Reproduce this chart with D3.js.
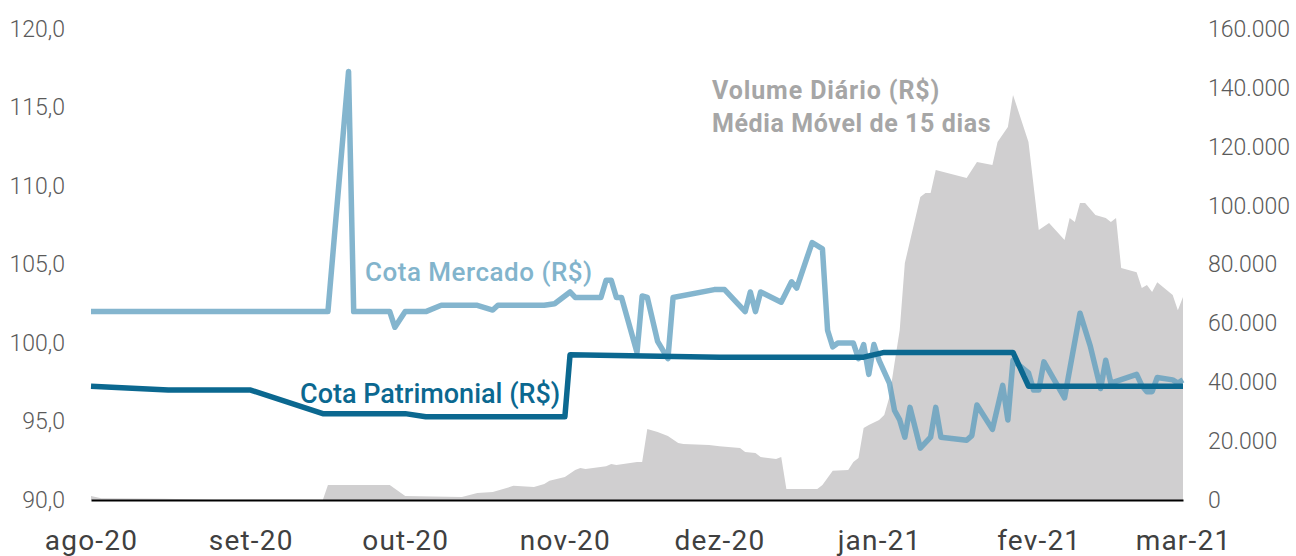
<!DOCTYPE html>
<html>
<head>
<meta charset="utf-8">
<script src="https://cdn.jsdelivr.net/npm/d3@7"></script>
<style>
  body { margin: 0; background: #fff; }
  text { font-family: Roboto, "Noto Sans", sans-serif; }
</style>
</head>
<body>
<script>
function setattrs(shape, dict) {
    for (let [prop, val] of Object.entries(dict)) {
        shape.attr(prop, val)
    }
}

// Cota Mercado (R$)
const mercadoDates = ["2020-08-01","2020-09-16","2020-09-20","2020-09-21","2020-09-28","2020-09-29","2020-10-01","2020-10-05",
    "2020-10-08","2020-10-15","2020-10-18","2020-10-19","2020-10-28","2020-10-30","2020-11-02","2020-11-03","2020-11-08",
    "2020-11-09","2020-11-10","2020-11-11","2020-11-12","2020-11-15","2020-11-16","2020-11-17","2020-11-19","2020-11-21",
    "2020-11-22","2020-11-30","2020-12-02","2020-12-06","2020-12-07","2020-12-08","2020-12-09","2020-12-13","2020-12-15",
    "2020-12-16","2020-12-19","2020-12-21","2020-12-22","2020-12-23","2020-12-24","2020-12-27","2020-12-28","2020-12-29",
    "2020-12-30","2020-12-31","2021-01-01","2021-01-03","2021-01-04","2021-01-05","2021-01-06","2021-01-07","2021-01-09",
    "2021-01-11","2021-01-12","2021-01-13","2021-01-18","2021-01-19","2021-01-20","2021-01-23","2021-01-25","2021-01-26",
    "2021-01-27","2021-01-30","2021-01-31","2021-02-01","2021-02-02","2021-02-06","2021-02-09","2021-02-11","2021-02-13",
    "2021-02-14","2021-02-15","2021-02-20","2021-02-21","2021-02-22","2021-02-23","2021-02-24","2021-02-27","2021-02-28",
    "2021-03-01"]
const mercadoValues = [102.0,102.0,117.3,102.0,102.0,101.0,102.0,102.0,
    102.4,102.4,102.1,102.4,102.4,102.5,103.25,102.9,102.9,
    104.0,104.0,102.9,102.9,99.4,103.0,102.9,100.1,99.0,
    102.9,103.4,103.4,102.0,103.25,102.0,103.25,102.6,103.9,
    103.5,106.4,106.0,100.8,99.75,100.0,100.0,99.0,99.9,
    98.0,99.9,98.9,97.45,95.7,95.1,94.0,95.9,93.3,
    94.0,95.9,94.0,93.8,94.1,96.05,94.5,97.3,95.1,
    98.9,98.1,97.0,97.0,98.8,96.5,101.9,99.8,97.1,
    98.9,97.45,98.0,97.3,96.9,96.9,97.8,97.65,97.45,
    97.65]

// Cota Patrimonial (R$)
const patrimonialDates = ["2020-08-01","2020-08-16","2020-09-01","2020-09-15","2020-10-01","2020-10-05","2020-11-01",
    "2020-11-02","2020-12-01","2020-12-29","2021-01-02","2021-01-27","2021-01-30","2021-03-01"]
const patrimonialValues = [97.25,97.0,97.0,95.5,95.5,95.3,95.3,99.25,99.1,99.1,99.4,99.4,97.25,97.25]

// Volume Diario (R$) - media movel de 15 dias
const volumeDates = ["2020-08-01","2020-08-03","2020-08-15","2020-08-25","2020-09-15","2020-09-16","2020-09-28","2020-10-01",
    "2020-10-12","2020-10-15","2020-10-18","2020-10-22","2020-10-26","2020-10-28","2020-10-29","2020-11-01","2020-11-03",
    "2020-11-04","2020-11-05","2020-11-09","2020-11-10","2020-11-11","2020-11-15","2020-11-16","2020-11-17","2020-11-19",
    "2020-11-21","2020-11-23","2020-11-24","2020-11-29","2020-12-01","2020-12-05","2020-12-06","2020-12-08","2020-12-09",
    "2020-12-12","2020-12-13","2020-12-14","2020-12-20","2020-12-21","2020-12-23","2020-12-26","2020-12-27","2020-12-28",
    "2020-12-29","2020-12-30","2021-01-01","2021-01-02","2021-01-03","2021-01-04","2021-01-05","2021-01-06","2021-01-09",
    "2021-01-10","2021-01-11","2021-01-12","2021-01-18","2021-01-20","2021-01-23","2021-01-24","2021-01-26","2021-01-27",
    "2021-01-30","2021-02-01","2021-02-03","2021-02-06","2021-02-07","2021-02-08","2021-02-09","2021-02-10","2021-02-12",
    "2021-02-14","2021-02-15","2021-02-16","2021-02-17","2021-02-20","2021-02-21","2021-02-22","2021-02-23","2021-02-24",
    "2021-02-27","2021-02-28","2021-03-01"]
const volumeValues = [1400,600,400,100,0,5100,5100,1400,
    1000,2400,2700,4800,4400,5400,6500,7800,10200,
    10900,10500,11500,12200,11900,12900,12900,24100,23100,
    21700,19400,19000,18700,18300,17700,16300,16000,14600,
    13900,14600,3700,3700,5100,9900,10200,12900,14300,
    24500,25500,27200,28900,35000,46500,57700,80500,102900,
    104300,104300,112100,109400,114800,113800,121600,126700,137600,
    121600,91700,94100,88300,95800,94400,100900,100900,96800,
    95800,94400,95800,78800,77400,72000,73000,70700,74000,
    69600,64500,69000]

const monthDates = ["2020-08-01","2020-09-01","2020-10-01","2020-11-01","2020-12-01","2021-01-01","2021-02-01","2021-03-01"]
const monthLabels = ["ago-20","set-20","out-20","nov-20","dez-20","jan-21","fev-21","mar-21"]
const leftTicks = [90,95,100,105,110,115,120]
const rightTicks = [0,20000,40000,60000,80000,100000,120000,140000,160000]

const W = 1296, H = 556
const parse = d3.timeParse("%Y-%m-%d")
const ptBR = d3.formatLocale({decimal: ",", thousands: ".", grouping: [3], currency: ["R$", ""]})

const svg = d3.select("body").append("svg")
setattrs(svg, {"width": W, "height": H})

const x = d3.scaleTime().domain([parse(monthDates[0]), parse(monthDates[monthDates.length-1])]).range([91, 1183])
const yL = d3.scaleLinear().domain([90, 120]).range([500, 29])
const yR = d3.scaleLinear().domain([0, 160000]).range([500, 29])

const volume = volumeDates.map((d, i) => ({date: parse(d), v: volumeValues[i]}))
const mercado = mercadoDates.map((d, i) => ({date: parse(d), v: mercadoValues[i]}))
const patrimonial = patrimonialDates.map((d, i) => ({date: parse(d), v: patrimonialValues[i]}))

// gray area (right axis)
svg.append("path")
    .datum(volume)
    .attr("d", d3.area().x(d => x(d.date)).y0(yR(0)).y1(d => yR(d.v)))
    .attr("fill", "#d0cfd0")

// lines (left axis)
const line = d3.line().x(d => x(d.date)).y(d => yL(d.v))

svg.append("path")
    .datum(mercado)
    .attr("d", line)
    .attr("style", "fill:none; stroke:#5b9cbd; stroke-opacity:0.75; stroke-width:5.5; stroke-linejoin:round")

svg.append("path")
    .datum(patrimonial)
    .attr("d", line)
    .attr("style", "fill:none; stroke:#0b6890; stroke-width:5.5; stroke-linejoin:round")

// axes
const xAxis = svg.append("g")
    .attr("transform", "translate(0,500)")
    .call(d3.axisBottom(x).tickValues(monthDates.map(parse))
        .tickFormat((d, i) => monthLabels[i]).tickSize(0).tickPadding(30))
xAxis.select(".domain").attr("stroke", "#000").attr("stroke-width", 2)
xAxis.selectAll("text").attr("font-size", 28).attr("fill", "#404040")
    .attr("letter-spacing", 1.2).attr("font-family", "Roboto, sans-serif")

const leftAxis = svg.append("g")
    .attr("transform", "translate(91,0)")
    .call(d3.axisLeft(yL).tickValues(leftTicks).tickFormat(ptBR.format(".1f")).tickSize(0).tickPadding(26))
leftAxis.select(".domain").remove()
leftAxis.selectAll("text").attr("font-size", 23).attr("fill", "#5a5a5a").attr("font-weight", 300)
    .attr("font-family", "Roboto, sans-serif")

const rightAxis = svg.append("g")
    .attr("transform", "translate(1183,0)")
    .call(d3.axisRight(yR).tickValues(rightTicks).tickFormat(ptBR.format(",d")).tickSize(0).tickPadding(25))
rightAxis.select(".domain").remove()
rightAxis.selectAll("text").attr("font-size", 23).attr("fill", "#5a5a5a").attr("font-weight", 300)
    .attr("font-family", "Roboto, sans-serif")

// annotations
const ann = [
    {t: "Cota Mercado (R$)", x: 365, y: 281, size: 26, w: 500, ls: 0.5, c: "#82b4cc"},
    {t: "Cota Patrimonial (R$)", x: 300, y: 403, size: 27, w: 500, ls: 0, c: "#0b6890"},
    {t: "Volume Diário (R$)", x: 712, y: 99, size: 25, w: 700, ls: 0.9, c: "#a6a6a6"},
    {t: "Média Móvel de 15 dias", x: 712, y: 132, size: 25, w: 700, ls: 0.6, c: "#a6a6a6"}
]
for (let a of ann) {
    const t = svg.append("text").text(a.t)
    setattrs(t, {"x": a.x, "y": a.y, "font-size": a.size, "font-weight": a.w, "fill": a.c, "letter-spacing": a.ls})
}
</script>
</body>
</html>
